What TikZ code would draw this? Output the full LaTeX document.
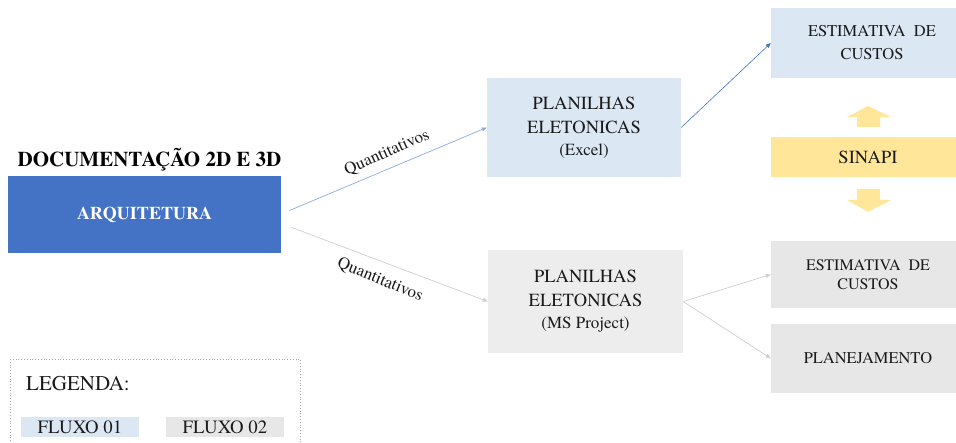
\documentclass[tikz,border=0pt]{standalone}
\usepackage{fontspec}
\setmainfont{texgyretermes}[Extension=.otf, UprightFont=*-regular, BoldFont=*-bold, ItalicFont=*-italic, BoldItalicFont=*-bolditalic]
\usetikzlibrary{arrows.meta,calc}
\definecolor{archblue}{HTML}{4472C4}
\definecolor{lblue}{HTML}{DCE7F4}
\definecolor{lgray}{HTML}{E8E7E7}
\definecolor{lgray2}{HTML}{EDEDED}
\definecolor{yel}{HTML}{FFE699}
\definecolor{arrblue}{HTML}{8FAADC}
\definecolor{arrgray}{HTML}{D0CECE}
\definecolor{txt}{HTML}{1A1A1A}
\tikzset{
  box/.style={rectangle, inner sep=0pt, align=center, text=txt},
  flowtip/.style={-{Triangle[length=5pt,width=4pt]}},
}
\begin{document}
\begin{tikzpicture}[x=1pt,y=-1pt]
\useasboundingbox (0,0) rectangle (956,443);
\clip (0,0) rectangle (956,443);

% title and main box
\node[box, font=\bfseries\fontsize{21}{24}\selectfont, text=black] (doc) at (149.5,160) {DOCUMENTAÇÃO 2D E 3D};
\node[box, fill=archblue, minimum width=273pt, minimum height=77pt, text=white, font=\bfseries\fontsize{18}{20}\selectfont] (arq) at (144.5,214.5) {ARQUITETURA};

% middle boxes
\node[box, fill=lblue, minimum width=194pt, minimum height=99pt, font=\fontsize{18.5}{24}\selectfont] (excel) at (584,127.5)
  {PLANILHAS\\ELETONICAS\\[-2pt]{\fontsize{17}{20}\selectfont (Excel)}};
\node[box, fill=lgray2, minimum width=195pt, minimum height=103pt, font=\fontsize{18.5}{24}\selectfont] (msp) at (585.5,301.5)
  {PLANILHAS\\ELETONICAS\\[-2pt]{\fontsize{17}{20}\selectfont (MS Project)}};

% right boxes
\node[box, fill=lblue, minimum width=202pt, minimum height=70pt, font=\fontsize{16.5}{23}\selectfont] (est1) at (872,43) {ESTIMATIVA\ \ DE\\CUSTOS};
\node[box, fill=yel, minimum width=202pt, minimum height=40pt, font=\fontsize{18.5}{21}\selectfont] (sinapi) at (872,157) {\hspace*{-8pt}SINAPI};
\node[box, fill=lgray, minimum width=202pt, minimum height=67pt, font=\fontsize{16}{18.5}\selectfont] (est2) at (872,274.5) {\hspace*{-8pt}ESTIMATIVA\ \ DE\\\hspace*{-8pt}CUSTOS};
\node[box, fill=lgray, minimum width=202pt, minimum height=69pt, font=\fontsize{16.4}{20}\selectfont] (plan) at (872,358.5) {\hspace*{-8pt}PLANEJAMENTO};

% yellow block arrows
\fill[yel] (868,106) -- (891,117) -- (880,117) -- (880,127) -- (857,127) -- (857,117) -- (847,117) -- cycle;
\fill[yel] (857,189) -- (880,189) -- (880,200) -- (891,200) -- (868,212) -- (847,200) -- (857,200) -- cycle;

% connectors
\draw[arrblue, line width=0.7pt, flowtip, shorten <=9pt] ($(arq.east)+(0,-0.5)$) -- (excel.west);
\draw[arrgray, line width=0.7pt, flowtip, shorten <=11pt] ($(arq.east)+(0,9)$) -- (msp.west);
\draw[archblue, line width=0.6pt, flowtip] (excel.east) -- (est1.west);
\draw[arrgray, line width=0.7pt, flowtip] (msp.east) -- (est2.west);
\draw[arrgray, line width=0.7pt, flowtip] (msp.east) -- (plan.west);

% labels
\node[box, rotate=24, font=\fontsize{17}{19}\selectfont] (q1) at (387,153) {Quantitativos};
\node[box, rotate=-22.6, font=\fontsize{17}{19}\selectfont] (q2) at (380,280) {Quantitativos};

% legend
\draw[gray!70, dotted, line width=0.8pt] (10,359) rectangle (300,460);
\node[box, anchor=west, font=\fontsize{21}{24}\selectfont] (leg) at (26,384) {LEGENDA:};
\node[box, fill=lblue, minimum width=118pt, minimum height=20pt, font=\fontsize{18.8}{20}\selectfont] (f1) at (80,427) {FLUXO 01};
\node[box, fill=lgray, minimum width=118pt, minimum height=20pt, font=\fontsize{18.8}{20}\selectfont] (f2) at (225,427) {FLUXO 02};
\end{tikzpicture}
\end{document}
